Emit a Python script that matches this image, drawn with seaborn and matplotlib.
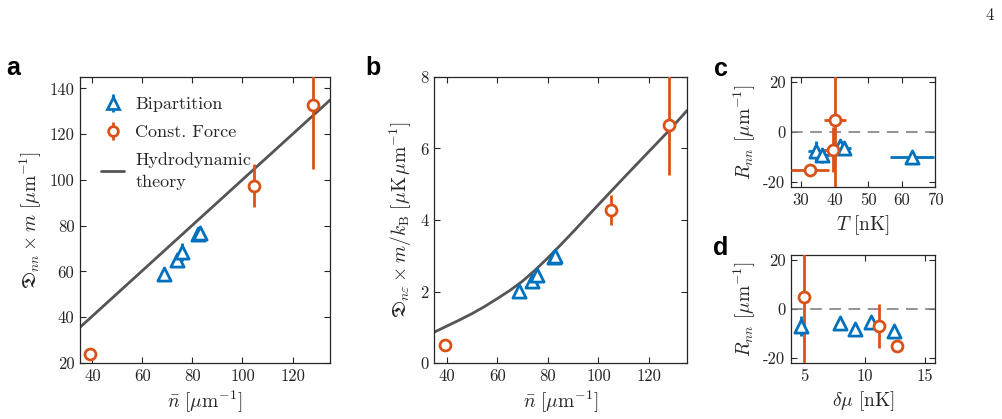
import numpy as np
import pandas as pd
import matplotlib
matplotlib.use("Agg")
import matplotlib.pyplot as plt
import seaborn as sns

# ---------------- data ----------------
bip_n = [68.6, 73.7, 75.8, 82.4, 82.9]
bip_Dnn = [59.0, 64.8, 68.5, 76.3, 76.8]
bip_Dnn_err = [1.5, 1.5, 4.0, 1.5, 1.5]
bip_Dne = [2.02, 2.30, 2.45, 2.97, 3.00]
bip_Dne_err = [0.08, 0.08, 0.10, 0.08, 0.08]

cf_n = [39.2, 104.8, 128.0]
cf_Dnn = [24.0, 97.5, 132.8]
cf_Dnn_err = [0.8, 9.3, 28.0]
cf_Dne = [0.50, 4.28, 6.65]
cf_Dne_err = [0.03, 0.42, 1.40]

theory_a_n = [35, 135]
theory_a_D = [35.6, 134.9]
theory_b_n = [35, 40, 45, 50, 55, 60, 65, 70, 75, 80, 85, 90, 95, 100, 110, 120, 128, 135]
theory_b_D = [0.86, 1.03, 1.20, 1.38, 1.58, 1.80, 2.03, 2.29, 2.60, 2.94, 3.30, 3.67, 4.05,
              4.43, 5.18, 5.92, 6.51, 7.06]

bip_T = [34.5, 36.2, 41.6, 42.8, 63.2]
bip_T_err = [2.5, 2.0, 2.0, 2.0, 6.6]
bip_R_c = [-7.5, -9.3, -5.5, -6.5, -9.8]
bip_R_c_err = [4.0, 3.0, 2.0, 1.5, 1.5]

cf_T = [32.7, 40.1, 39.4]
cf_T_err = [5.6, 3.2, 3.0]
cf_R = [-15.0, 5.0, -7.0]
cf_R_err = [1.0, 30.0, 9.0]

bip_dmu = [4.75, 7.95, 9.18, 10.55, 12.4]
bip_R_d = [-7.0, -5.9, -8.3, -5.4, -9.0]
bip_R_d_err = [4.0, 1.5, 1.5, 1.5, 1.5]

cf_dmu = [12.7, 4.95, 11.2]

# ---------------- style ----------------
sns.set_theme(style="ticks")
plt.rcParams["font.family"] = ["cmr10", "DejaVu Serif"]
plt.rcParams["mathtext.fontset"] = "cm"
plt.rcParams["axes.unicode_minus"] = False
plt.rcParams["axes.formatter.use_mathtext"] = False

BLUE = "#0072BD"
ORANGE = "#D95319"
GRAY = "#555555"
AXC = "#262626"

fig = plt.figure(figsize=(10.03, 4.19), dpi=100)
W, H = 1003, 419

def add_ax(l, t, r, b):
    return fig.add_axes([l / W, 1 - b / H, (r - l) / W, (b - t) / H])

ax_a = add_ax(80, 77, 330, 363)
ax_b = add_ax(434, 77, 687, 363)
ax_c = add_ax(791, 77, 935, 187)
ax_d = add_ax(791, 255, 935, 363)

MS_TRI = 90
MS_CIR = 62
ELW = 2.0

def style(ax):
    for s in ax.spines.values():
        s.set_color(AXC)
        s.set_linewidth(0.9)
    ax.tick_params(direction="in", top=True, right=True, length=4, width=0.8,
                   colors=AXC, labelsize=12, pad=4)

def tri(ax, x, y, yerr=None, xerr=None):
    ax.errorbar(x, y, yerr=yerr, xerr=xerr, fmt="none", ecolor=BLUE, elinewidth=ELW, capsize=0, zorder=3)
    sns.scatterplot(x=x, y=y, ax=ax, marker="^", s=MS_TRI, facecolor="white",
                    edgecolor=BLUE, linewidth=2.0, zorder=4, legend=False)

def cir(ax, x, y, yerr=None, xerr=None):
    ax.errorbar(x, y, yerr=yerr, xerr=xerr, fmt="none", ecolor=ORANGE, elinewidth=ELW, capsize=0, zorder=3)
    sns.scatterplot(x=x, y=y, ax=ax, marker="o", s=MS_CIR, facecolor="white",
                    edgecolor=ORANGE, linewidth=2.0, zorder=4, legend=False)

# ---------------- panel a ----------------
ax = ax_a
sns.lineplot(x=theory_a_n, y=theory_a_D, ax=ax, color=GRAY, lw=2.0, zorder=2)
tri(ax, bip_n, bip_Dnn, yerr=bip_Dnn_err)
cir(ax, cf_n, cf_Dnn, yerr=cf_Dnn_err)
ax.set_xlim(35, 135)
ax.set_ylim(20, 145)
ax.set_xticks([40, 60, 80, 100, 120])
ax.set_yticks([20, 40, 60, 80, 100, 120, 140])
ax.set_xlabel(r"$\bar{n}\ [\mu\mathrm{m}^{-1}]$", fontsize=14, color=AXC)
ax.set_ylabel(r"$\mathfrak{D}_{nn}\times m\ [\mu\mathrm{m}^{-1}]$", fontsize=14, color=AXC)
style(ax)
h1 = ax.errorbar([np.nan], [np.nan], yerr=[1], fmt="^", ms=8.5, mfc="white", mec=BLUE, mew=2,
                 ecolor=BLUE, elinewidth=ELW, capsize=0, label="Bipartition")
h2 = ax.errorbar([np.nan], [np.nan], yerr=[1], fmt="o", ms=7, mfc="white", mec=ORANGE, mew=2,
                 ecolor=ORANGE, elinewidth=ELW, capsize=0, label="Const. Force")
h3, = ax.plot([np.nan], [np.nan], color=GRAY, lw=2.0, label="Hydrodynamic\ntheory")
leg = ax.legend(handles=[h1, h2, h3], loc="upper left", bbox_to_anchor=(0.04, 0.97), frameon=False,
                fontsize=13, handlelength=1.3, handletextpad=0.6, labelspacing=0.68, borderaxespad=0.2)
for t in leg.get_texts():
    t.set_linespacing(1.5)
    t.set_color(AXC)

# ---------------- panel b ----------------
ax = ax_b
sns.lineplot(x=theory_b_n, y=theory_b_D, ax=ax, color=GRAY, lw=2.0, zorder=2)
tri(ax, bip_n, bip_Dne, yerr=bip_Dne_err)
cir(ax, cf_n, cf_Dne, yerr=cf_Dne_err)
ax.set_xlim(35, 135)
ax.set_ylim(0, 8)
ax.set_xticks([40, 60, 80, 100, 120])
ax.set_yticks([0, 2, 4, 6, 8])
ax.set_xlabel(r"$\bar{n}\ [\mu\mathrm{m}^{-1}]$", fontsize=14, color=AXC)
ax.set_ylabel(r"$\mathfrak{D}_{n\varepsilon}\times m/k_{\mathrm{B}}\ [\mu\mathrm{K}\,\mu\mathrm{m}^{-1}]$",
              fontsize=14, color=AXC)
style(ax)

# ---------------- panel c ----------------
ax = ax_c
ax.axhline(0, color="#808080", lw=1.2, ls=(0, (7, 4.5)), zorder=1)
tri(ax, bip_T, bip_R_c, yerr=bip_R_c_err, xerr=bip_T_err)
cir(ax, cf_T, cf_R, yerr=cf_R_err, xerr=cf_T_err)
ax.set_xlim(27, 70)
ax.set_ylim(-22, 22)
ax.set_xticks([30, 40, 50, 60, 70])
ax.set_yticks([-20, 0, 20])
ax.set_xlabel(r"$T\ [\mathrm{nK}]$", fontsize=14, color=AXC)
ax.set_ylabel(r"$R_{nn}\ [\mu\mathrm{m}^{-1}]$", fontsize=14, color=AXC)
style(ax)

# ---------------- panel d ----------------
ax = ax_d
ax.axhline(0, color="#808080", lw=1.2, ls=(0, (7, 4.5)), zorder=1)
tri(ax, bip_dmu, bip_R_d, yerr=bip_R_d_err)
cir(ax, cf_dmu, cf_R, yerr=cf_R_err)
ax.set_xlim(3.9, 15.8)
ax.set_ylim(-22, 22)
ax.set_xticks([5, 10, 15])
ax.set_yticks([-20, 0, 20])
ax.set_xlabel(r"$\delta\mu\ [\mathrm{nK}]$", fontsize=14, color=AXC)
ax.set_ylabel(r"$R_{nn}\ [\mu\mathrm{m}^{-1}]$", fontsize=14, color=AXC)
style(ax)

# ---------------- panel letters & page number ----------------
for lab, x, y in [("a", 13, 68), ("b", 373, 68), ("c", 721, 69), ("d", 721, 248)]:
    fig.text(x / W, 1 - y / H, lab, fontsize=18, fontweight="bold",
             family="Liberation Sans", ha="center", va="center", color="black")
fig.text(990 / W, 1 - 15 / H, "4", fontsize=12, ha="center", va="center", color=AXC)

fig.savefig("out.png", dpi=100)
